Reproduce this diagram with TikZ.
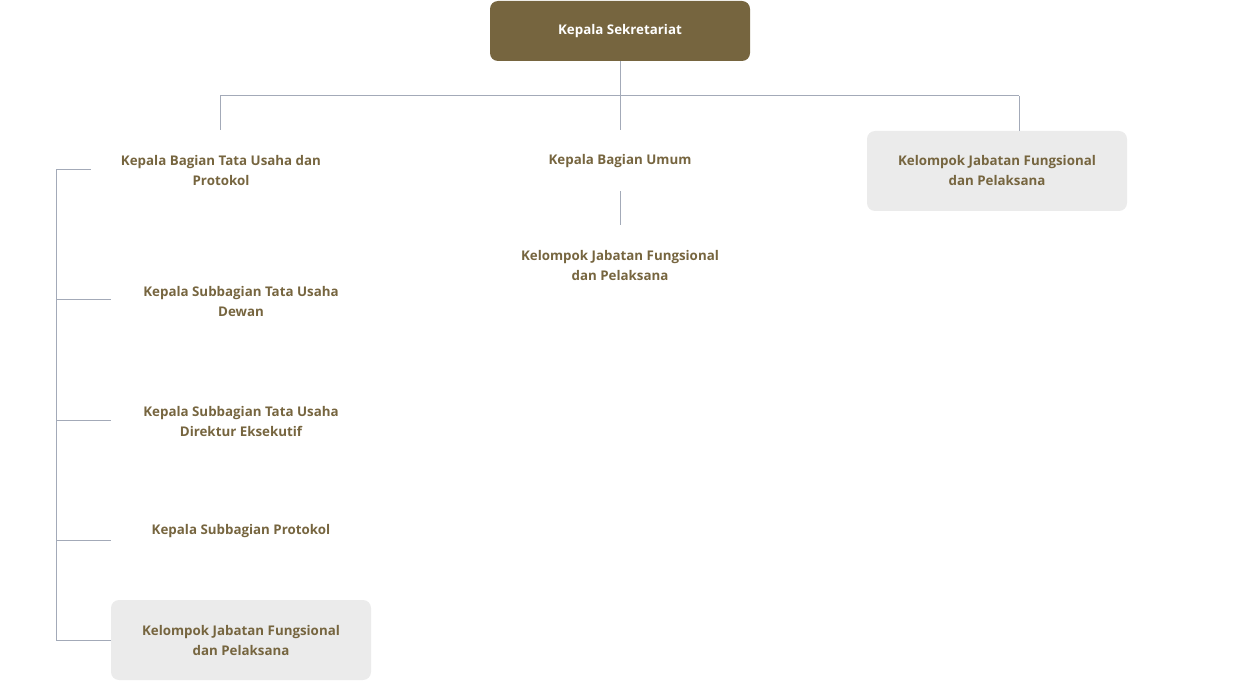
\documentclass[tikz,border=0pt]{standalone}
\usepackage{fontspec}
\setmainfont{Open Sans}
\usepackage{tikz}
\usetikzlibrary{positioning, calc}
\definecolor{sekbrown}{HTML}{76653F}
\definecolor{sekgray}{HTML}{EBEBEB}
\definecolor{sekline}{HTML}{A3AAB8}

\begin{document}
\begin{tikzpicture}[
  x=0.75pt, y=-0.75pt,
  unit/.style={rectangle, rounded corners=6pt,
               minimum width=195pt, minimum height=60pt,
               align=center, font=\fontsize{10}{15}\selectfont\bfseries,
               text=sekbrown, inner sep=0pt},
  head/.style={unit, fill=sekbrown, text=white, minimum height=45pt},
  grpbox/.style={unit, fill=sekgray},
  link/.style={draw=sekline, line width=0.75pt}
]
\useasboundingbox (0,0) rectangle (1240,681);

% === Top level ===
\node[head] (kasek) at (620, 31) {Kepala Sekretariat};

% === Second level: three branches ===
\node[unit]   (tu)    at (221, 171) {Kepala Bagian Tata Usaha dan\\Protokol};
\node[unit, minimum height=45pt] (umum) at (620, 161) {Kepala Bagian Umum};
\node[grpbox] (jfr)   at (997, 171) {Kelompok Jabatan Fungsional\\dan Pelaksana};

% === Under Bagian Umum ===
\node[unit, minimum height=45pt] (jfu) at (620, 266)
  {Kelompok Jabatan Fungsional\\dan Pelaksana};

% === Under Bagian Tata Usaha dan Protokol ===
\node[unit]   (dewan) at (241, 301) {Kepala Subbagian Tata Usaha\\Dewan};
\node[unit]   (dirut) at (241, 421) {Kepala Subbagian Tata Usaha\\Direktur Eksekutif};
\node[unit]   (prot)  at (241, 531) {Kepala Subbagian Protokol};
\node[grpbox] (jftu)  at (241, 640) {Kelompok Jabatan Fungsional\\dan Pelaksana};

% === Connectors: top bus ===
\coordinate (busL) at (220, 96);
\coordinate (busR) at (1019, 96);
\draw[link] (kasek.south) -- (620, 130);
\draw[link] (busL) -- (busR);
\draw[link] (busL) -- (220, 130);
\draw[link] (busR) -- (busR |- jfr.north);

% === Connector: Bagian Umum -> its group ===
\draw[link] (umum.south) -- ($(jfu.north)+(0,-11)$);

% === Connectors: left spine ===
\coordinate (spT) at (56, 170);
\coordinate (spB) at (56, 640);
\draw[link] (spT) -- (spB);
\draw[link] (spT) -- (91, 170);
\draw[link] (56, 300) -- (dewan.west |- 0, 300);
\draw[link] (56, 420) -- (dirut.west |- 0, 420);
\draw[link] (56, 540) -- (prot.west |- 0, 540);
\draw[link] (spB) -- (jftu.west);

\end{tikzpicture}
\end{document}
